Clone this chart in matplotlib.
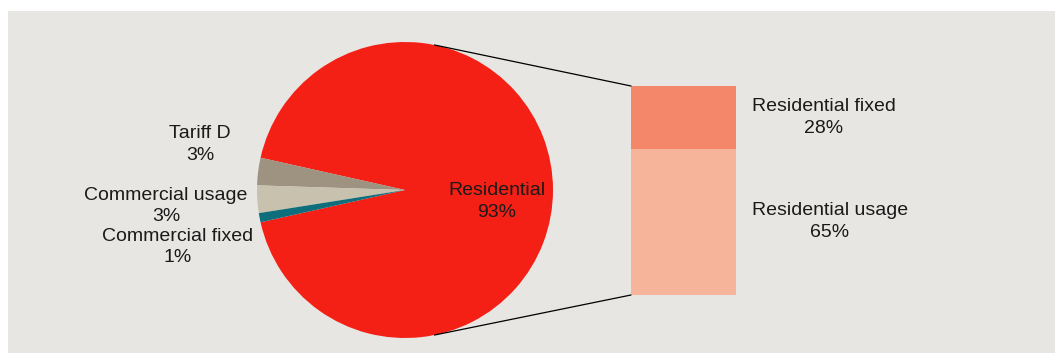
import numpy as np
import matplotlib
matplotlib.use("Agg")
import matplotlib.pyplot as plt
from matplotlib.patches import Rectangle, ConnectionPatch

# pie: total revenue split
pie_names = ["Residential", "Tariff D", "Commercial usage", "Commercial fixed"]
pie_values = [93, 3, 3, 1]
pie_colors = ["#F42015", "#9E9380", "#C7C1AD", "#0F6E7C"]

# bar: breakdown of the residential slice
bar_names = ["Residential usage", "Residential fixed"]
bar_values = [65, 28]
bar_colors = ["#F6B59B", "#F4866A"]

BG = "#E8E6E2"
TXT = "#1A1A1A"
W, H = 1055, 353

plt.rcParams["font.family"] = ["Liberation Sans", "DejaVu Sans"]

fig = plt.figure(figsize=(W / 100, H / 100), dpi=100)
fig.patch.set_facecolor("white")
fig.add_artist(Rectangle((8 / W, 0), 1 - 8 / W, (H - 11) / H,
                         transform=fig.transFigure, facecolor=BG,
                         edgecolor="none", zorder=0))

# pie axes: centre (405, 190) px, radius 148 px
cx, cy, r = 405, 190, 148
ax_pie = fig.add_axes([(cx - r) / W, (H - cy - r) / H, 2 * r / W, 2 * r / H])
ax_pie.set_facecolor("none")
start = -pie_values[0] * 3.6 / 2
wedges, _ = ax_pie.pie(pie_values, colors=pie_colors, startangle=start,
                       counterclock=True, radius=1,
                       wedgeprops=dict(linewidth=0))
ax_pie.set_xlim(-1, 1)
ax_pie.set_ylim(-1, 1)
ax_pie.axis("off")

pie_label_pos = [(0.62, -0.08), (-1.385, 0.31), (-1.615, -0.108), (-1.534, -0.385)]
for name, val, (lx, ly) in zip(pie_names, pie_values, pie_label_pos):
    ax_pie.text(lx, ly, f"{name}\n{val}%", ha="center", va="center",
                multialignment="center", fontsize=14, color=TXT,
                linespacing=1.38)

# stacked bar axes: x 631-736 px, y 86-295 px
ax_bar = fig.add_axes([631 / W, (H - 295) / H, 105 / W, 209 / H])
ax_bar.set_facecolor("none")
bottom = 0
for name, val, col in zip(bar_names, bar_values, bar_colors):
    ax_bar.bar(0.5, val, width=1, bottom=bottom, color=col, linewidth=0)
    ax_bar.text(1.152, bottom + val / 2, f"{name}\n{val}%", ha="left",
                va="center", multialignment="center", fontsize=14,
                color=TXT, linespacing=1.38)
    bottom += val
ax_bar.set_xlim(0, 1)
ax_bar.set_ylim(0, sum(bar_values))
ax_bar.axis("off")

# connector lines from the pie rim to the bar corners
theta = np.deg2rad(78.5)
for sgn, ytop in [(1, sum(bar_values)), (-1, 0)]:
    con = ConnectionPatch(xyA=(np.cos(theta), sgn * np.sin(theta)), coordsA=ax_pie.transData,
                          xyB=(0, ytop), coordsB=ax_bar.transData,
                          color="black", linewidth=0.9)
    fig.add_artist(con)

fig.savefig("out.png", dpi=100, facecolor=fig.get_facecolor())
